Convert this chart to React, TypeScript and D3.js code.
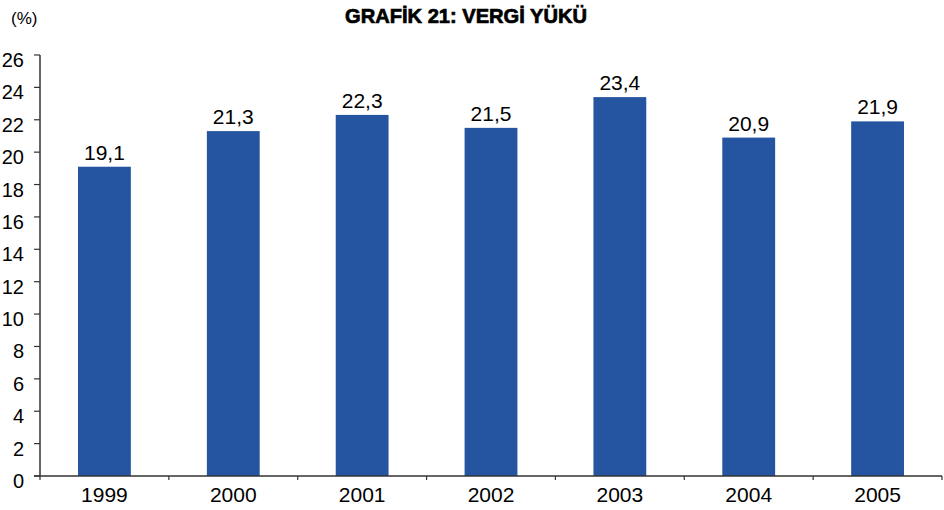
import React from "react";
import * as d3 from "d3";

const years = ["1999", "2000", "2001", "2002", "2003", "2004", "2005"];
const values = [19.1, 21.3, 22.3, 21.5, 23.4, 20.9, 21.9];
const yTicks = [0, 2, 4, 6, 8, 10, 12, 14, 16, 18, 20, 22, 24, 26];
const title = "GRAFİK 21: VERGİ YÜKÜ";
const unitLabel = "(%)";

const W = 944;
const H = 510;
const margin = { left: 40, right: 2, top: 55, bottom: 34 };
const barColor = "#2555A0";
const axisColor = "#333";

export default function App() {
  const x = d3
    .scaleBand<string>()
    .domain(years)
    .range([margin.left, W - margin.right])
    .paddingInner(0.59)
    .paddingOuter(0.295);
  const y = d3
    .scaleLinear()
    .domain([0, 26])
    .range([H - margin.bottom, margin.top]);
  const step = x.step();
  const y0 = y(0);
  const font = "'Liberation Sans', Arial, sans-serif";

  return (
    <svg
      width={W}
      height={H}
      style={{ position: "absolute", left: 0, top: 0, background: "#fff" }}
      fontFamily={font}
    >
      <text
        x={466}
        y={23}
        textAnchor="middle"
        fontSize={20}
        fontWeight="bold"
        fill="#000"
        stroke="#000"
        strokeWidth={0.7}
        textLength={242}
        lengthAdjust="spacingAndGlyphs"
      >
        {title}
      </text>
      <text x={11} y={24} fontSize={17} fill="#000">
        {unitLabel}
      </text>
      {values.map((v, i) => {
        const xv = x(years[i])!;
        return (
          <g key={years[i]}>
            <rect x={xv} y={y(v)} width={x.bandwidth()} height={y0 - y(v)} fill={barColor} />
            <text
              x={xv + x.bandwidth() / 2}
              y={y(v) - 7}
              textAnchor="middle"
              fontSize={21}
              fill="#000"
            >
              {String(v).replace(".", ",")}
            </text>
          </g>
        );
      })}
      {/* y axis */}
      <line x1={margin.left} x2={margin.left} y1={y(26)} y2={y0} stroke={axisColor} strokeWidth={1.5} />
      {yTicks.map((t) => (
        <g key={t}>
          <line x1={margin.left - 6} x2={margin.left} y1={y(t)} y2={y(t)} stroke={axisColor} strokeWidth={1.2} />
          <text x={24} y={y(t) + 12} textAnchor="end" fontSize={20} fill="#000">
            {t}
          </text>
        </g>
      ))}
      {/* x axis */}
      <line x1={margin.left - 6} x2={W - margin.right} y1={y0} y2={y0} stroke={axisColor} strokeWidth={1.5} />
      {d3.range(years.length + 1).map((i) => {
        const xt = margin.left + i * step;
        return <line key={i} x1={xt} x2={xt} y1={y0} y2={y0 + 4} stroke={axisColor} strokeWidth={1.2} />;
      })}
      {years.map((yr) => (
        <text key={yr} x={x(yr)! + x.bandwidth() / 2} y={y0 + 26} textAnchor="middle" fontSize={21} fill="#000">
          {yr}
        </text>
      ))}
    </svg>
  );
}
